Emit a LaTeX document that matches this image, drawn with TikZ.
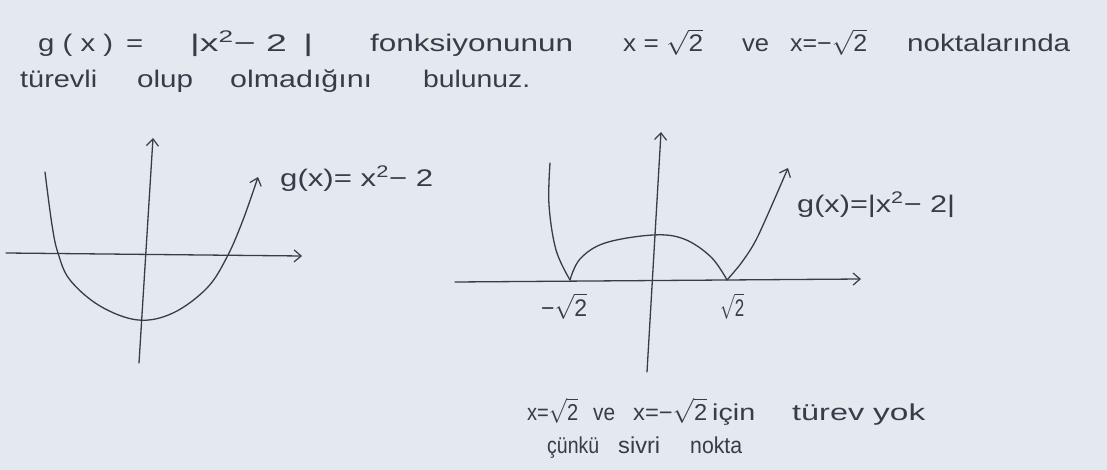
\documentclass[tikz,border=0pt]{standalone}
\usepackage{fontspec}
\usepackage{graphicx}
\setmainfont{Liberation Sans}
\usetikzlibrary{arrows.meta}
\definecolor{paper}{RGB}{227,233,239}
\definecolor{ink}{RGB}{55,60,72}
\newsavebox\hwbox
\newlength\hwlen
\newcommand\fitw[2]{\sbox\hwbox{#2}\setlength\hwlen{\wd\hwbox}\pgfmathsetmacro\hwr{#1/\hwlen}\scalebox{\hwr}[1]{\usebox\hwbox}}
\newcommand\rt[1]{$\sqrt{\mbox{#1}}$}
\tikzset{
  hw/.style={inner sep=0pt, anchor=base west, text=ink, font=\fontsize{24}{28}\selectfont},
  hws/.style={hw, font=\fontsize{23}{27}\selectfont},
  pen/.style={draw=ink, line width=1.3pt, line cap=round, line join=round},
  penarrow/.style={pen, -{Straight Barb[length=7pt,width=12pt,line width=1.2pt]}}
}
\begin{document}
\begin{tikzpicture}[x=1pt,y=-1pt]
\useasboundingbox[fill=paper] (0,0) rectangle (1107,470);
% --- heading, line 1
\node[hw] (h1) at (38,52) {\fitw{105}{g ( x ) \,=}};
\node[hw] (h2) at (190,52) {\fitw{123}{|x\textsuperscript{2}− 2 \,|}};
\node[hw] (h3) at (370,52) {\fitw{203}{fonksiyonunun}};
\node[hw] (h4) at (623,52) {\fitw{80}{x = \rt{2}}};
\node[hw] (h5) at (742,52) {\fitw{27}{ve}};
\node[hw] (h6) at (790,52) {\fitw{77}{x=−\rt{2}}};
\node[hw] (h7) at (907,52) {\fitw{163}{noktalarında}};
% --- heading, line 2
\node[hw] (h8) at (20,88) {\fitw{77}{türevli}};
\node[hw] (h9) at (137,88) {\fitw{56}{olup}};
\node[hw] (h10) at (230,88) {\fitw{142}{olmadığını}};
\node[hw] (h11) at (423,88) {\fitw{107}{bulunuz.}};
% --- left graph
\coordinate (lyb) at (139,363);
\coordinate (lyt) at (153,138);
\coordinate (lxl) at (6,253);
\coordinate (lxr) at (302,256);
\draw[penarrow] (lyb) -- (lyt);
\draw[penarrow] (lxl) -- (lxr);
\draw[penarrow] plot[smooth, tension=0.6] coordinates {(45,172) (52,225) (58,253) (70,280) (100,306) (138,320) (173,313) (207,288) (227,257) (243,220) (258,177)};
\node[hw] (lab1) at (280,187) {\fitw{153}{g(x)= x\textsuperscript{2}− 2}};
% --- right graph
\coordinate (ryb) at (647,372);
\coordinate (ryt) at (661,132);
\coordinate (rxl) at (455,282);
\coordinate (rxr) at (861,279);
\draw[penarrow] (ryb) -- (ryt);
\draw[penarrow] (rxl) -- (rxr);
\coordinate (cl) at (570,280);
\coordinate (cr) at (727,280);
\draw[pen] plot[smooth, tension=0.6] coordinates {(550,163) (549,205) (556,250) (570,280)};
\draw[pen] plot[smooth, tension=0.6] coordinates {(570,280) (580,259) (605,243) (653,235) (684,239) (711,257) (727,280)};
\draw[penarrow] plot[smooth, tension=0.5] coordinates {(727,280) (742,262) (758,236) (788,168)};
\node[hw] (lab2) at (797,213) {\fitw{158}{g(x)=|x\textsuperscript{2}− 2|}};
\node[hw] (m2) at (541,316) {\fitw{46}{−\rt{2}}};
\node[hw] (p2) at (720,316) {\fitw{24}{\rt{2}}};
% --- conclusion
\node[hws] (c1) at (527,420) {\fitw{51}{x=\rt{2}}};
\node[hws] (c2) at (593,420) {\fitw{22}{ve}};
\node[hws] (c3) at (633,420) {\fitw{74}{x=−\rt{2}}};
\node[hws] (c4) at (712,420) {\fitw{43}{için}};
\node[hws] (c5) at (792,420) {\fitw{72}{türev}};
\node[hws] (c6) at (873,420) {\fitw{52}{yok}};
\node[hws] (c7) at (547,453) {\fitw{52}{çünkü}};
\node[hws] (c8) at (618,453) {\fitw{42}{sivri}};
\node[hws] (c9) at (690,453) {\fitw{52}{nokta}};
\end{tikzpicture}
\end{document}
